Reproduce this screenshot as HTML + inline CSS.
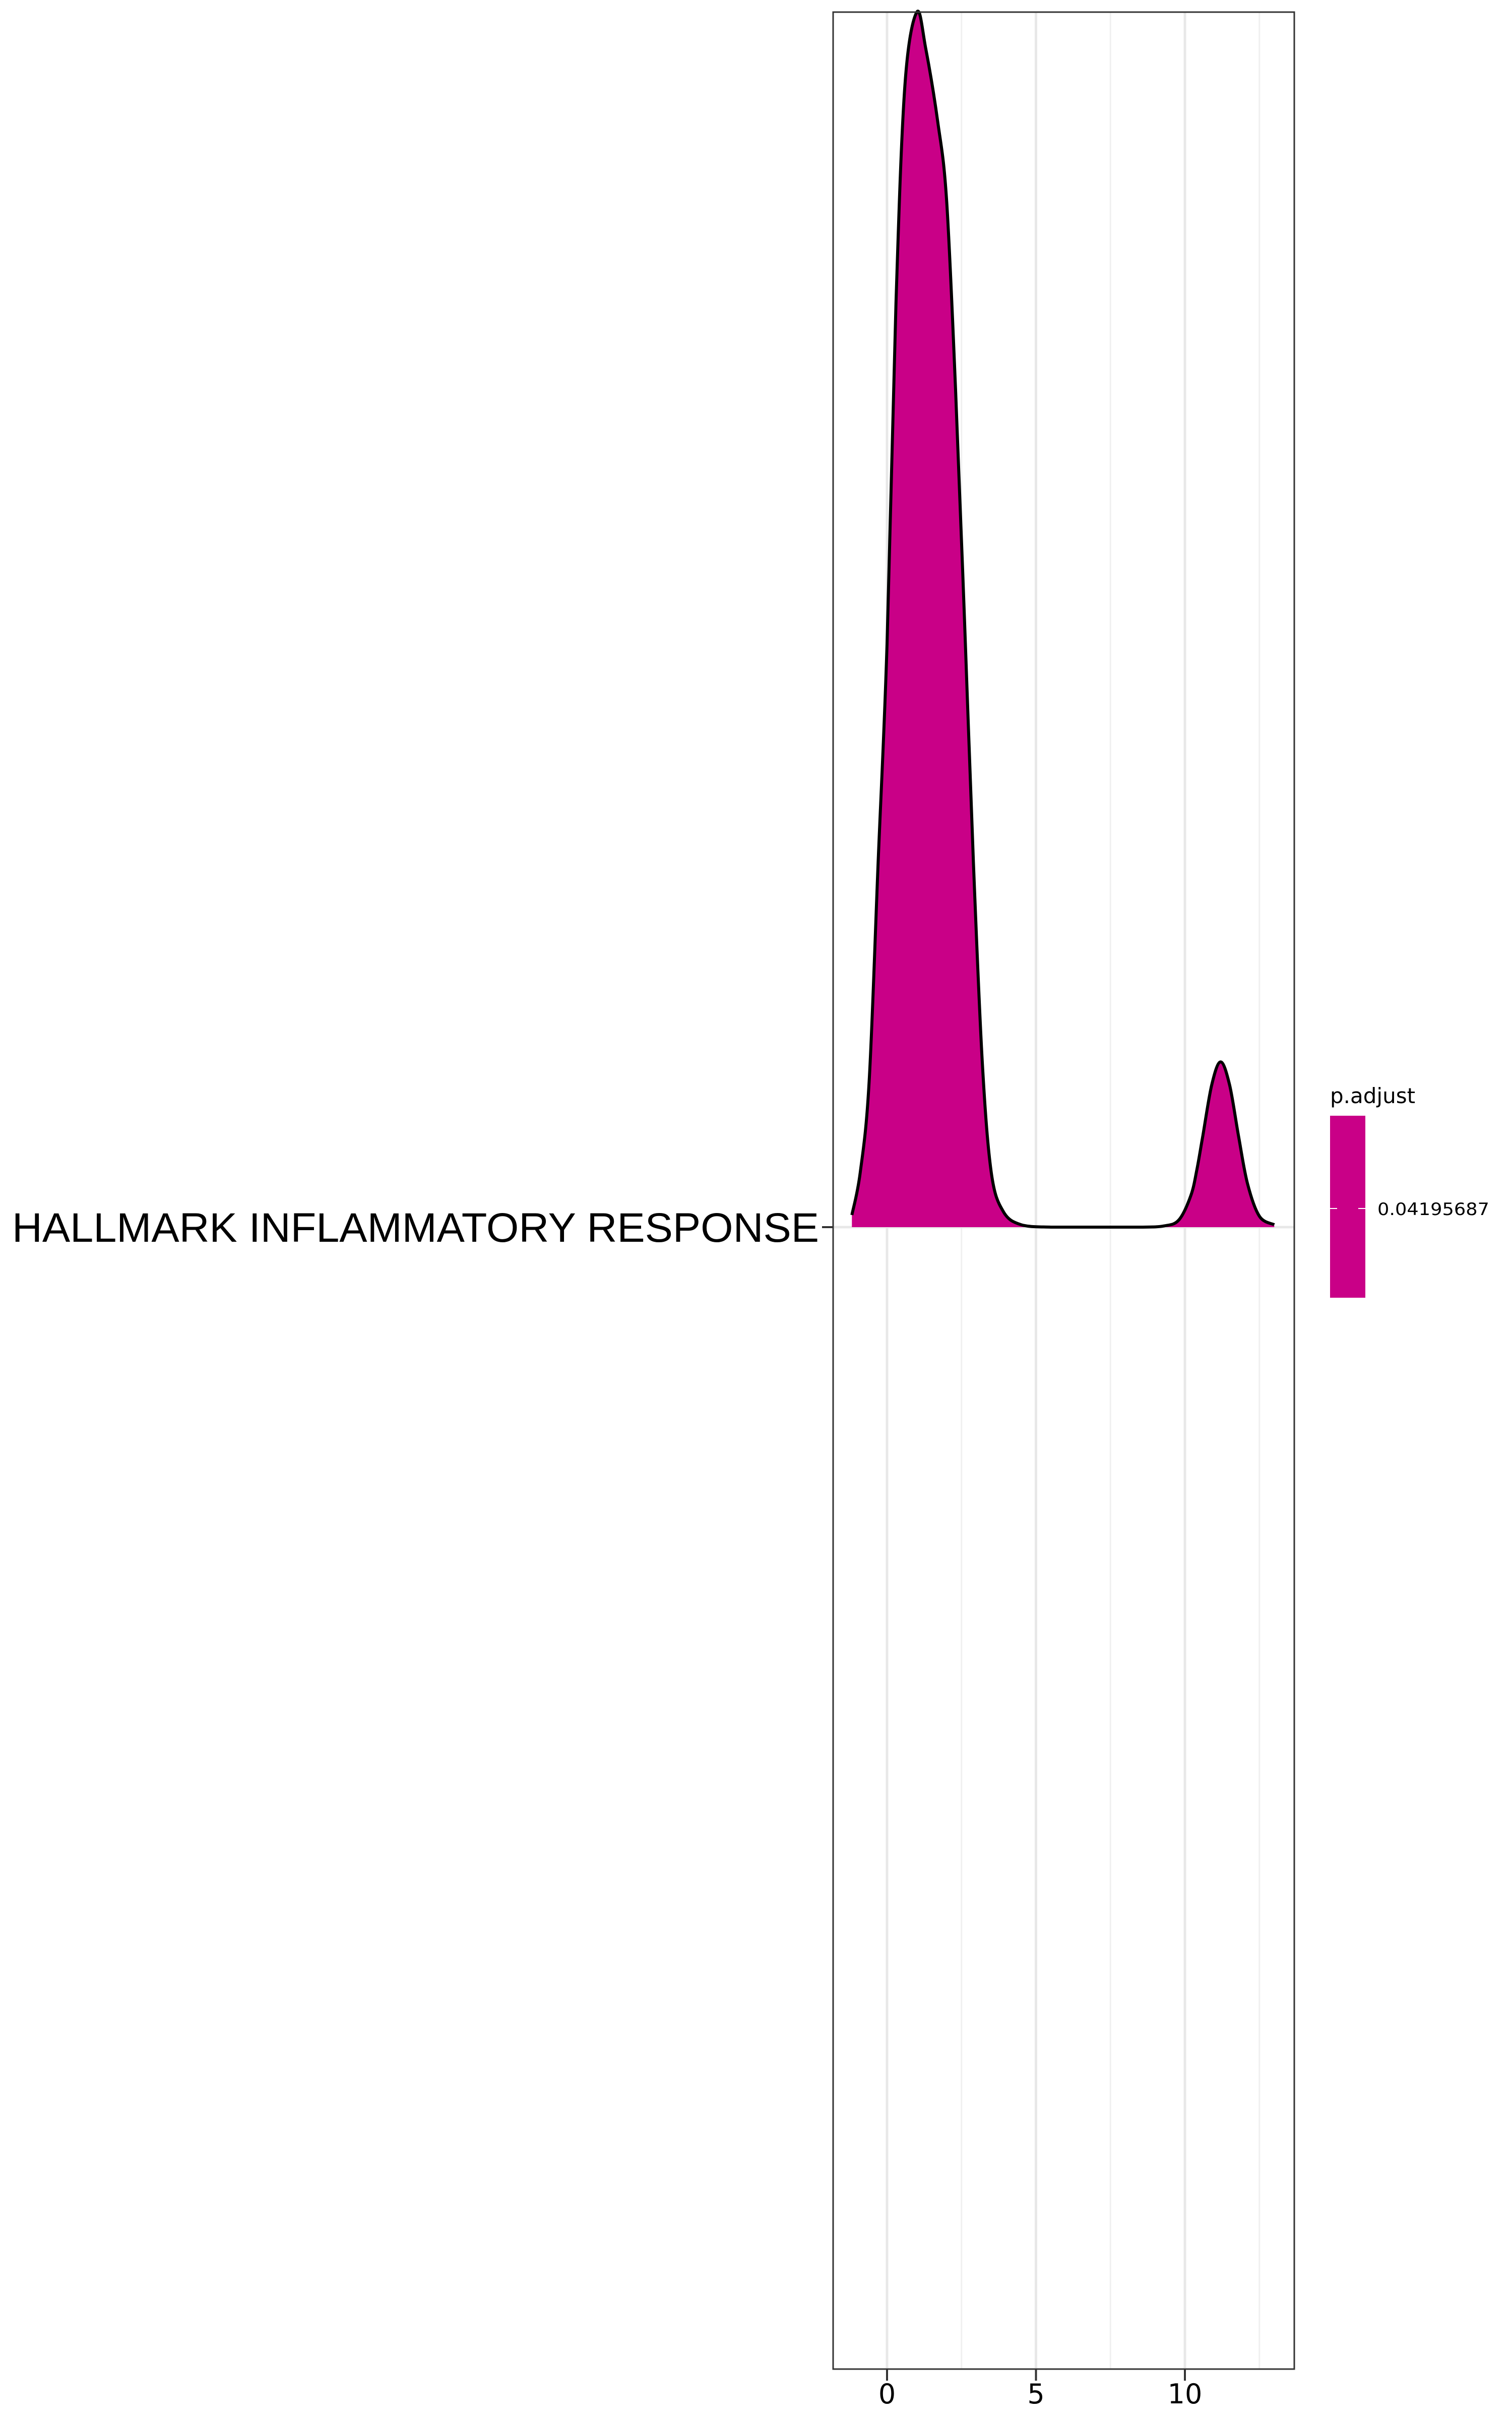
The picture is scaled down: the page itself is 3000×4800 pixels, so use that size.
<!DOCTYPE html>
<html><head><meta charset="utf-8"><style>html,body{margin:0;padding:0;background:#fff}svg{display:block}</style></head>
<body>
<svg width="3000" height="4800" viewBox="0 0 3000 4800" xmlns="http://www.w3.org/2000/svg">
<g id="grid"></g>
<g id="marks"></g>
<rect x="1653" y="24" width="915" height="4675" fill="none" stroke="#333" stroke-width="3"/>
<g id="axes"></g>
<text x="1625" y="2463" text-anchor="end" font-family="Liberation Sans, DejaVu Sans, sans-serif" font-size="82" fill="#000" textLength="1601" lengthAdjust="spacingAndGlyphs">HALLMARK INFLAMMATORY RESPONSE</text>
<g>
<text x="2639" y="2188" font-family="DejaVu Sans, Liberation Sans, sans-serif" font-size="42" fill="#000">p.adjust</text>
<rect x="2639" y="2213" width="70" height="361" fill="#C90087"/>
<line x1="2639" y1="2397" x2="2653" y2="2397" stroke="#fff" stroke-width="2"/>
<line x1="2695" y1="2397" x2="2709" y2="2397" stroke="#fff" stroke-width="2"/>
<text x="2733" y="2410" font-family="DejaVu Sans, Liberation Sans, sans-serif" font-size="34" fill="#000" textLength="222" lengthAdjust="spacingAndGlyphs">0.04195687</text>
</g>
</svg>
<script>
const xs = [-1.18,-0.9,-0.6,-0.3,0,0.3,0.6,1.0,1.3,1.7,2.0,2.3,2.6,2.9,3.2,3.5,3.9,4.5,5.5,7.0,8.5,9.3,9.8,10.2,10.4,10.6,10.9,11.2,11.5,11.8,12.1,12.5,13.0];
const dens = [0.01,0.045,0.12,0.30,0.48,0.76,0.94,1.0,0.97,0.91,0.845,0.69,0.50,0.30,0.135,0.045,0.013,0.002,0,0,0,0.001,0.006,0.026,0.047,0.075,0.117,0.136,0.117,0.075,0.036,0.009,0.002];
const majorTicks = [0,5,10];
const minorTicks = [2.5,7.5,12.5];
const tickLabels = ["0","5","10"];
const NS = "http://www.w3.org/2000/svg";
const X0 = 1760, UNIT = 59.1, BASE = 2434, PEAK = 2410;
const xs2p = v => X0 + v*UNIT;
const ys2p = d => BASE - d*PEAK;
const grid = document.getElementById('grid');
function ln(p, x1,y1,x2,y2,c,w){const l=document.createElementNS(NS,'line');l.setAttribute('x1',x1);l.setAttribute('y1',y1);l.setAttribute('x2',x2);l.setAttribute('y2',y2);l.setAttribute('stroke',c);l.setAttribute('stroke-width',w);p.appendChild(l);return l;}
minorTicks.forEach(t=>{const l=ln(grid,xs2p(t),24,xs2p(t),4699,'#F0F0F0',3);

});
majorTicks.forEach(t=>{const l=ln(grid,xs2p(t),24,xs2p(t),4699,'#E8E8E8',5);

});
const hl=ln(grid,1653,BASE,2568,BASE,'#E8E8E8',5);


const pts = xs.map((x,i)=>[xs2p(x), ys2p(dens[i])]);
function smooth(p){
  let s='';
  for(let i=0;i<p.length-1;i++){
    const p0=p[Math.max(0,i-1)],p1=p[i],p2=p[i+1],p3=p[Math.min(p.length-1,i+2)];
    const c1=[p1[0]+(p2[0]-p0[0])/6,p1[1]+(p2[1]-p0[1])/6];
    const c2=[p2[0]-(p3[0]-p1[0])/6,p2[1]-(p3[1]-p1[1])/6];
    s+=' C'+c1[0].toFixed(1)+','+Math.min(BASE,c1[1]).toFixed(1)+' '+c2[0].toFixed(1)+','+Math.min(BASE,c2[1]).toFixed(1)+' '+p2[0].toFixed(1)+','+p2[1].toFixed(1);
  }
  return s;
}
const curve = smooth(pts);
const marks=document.getElementById('marks');
const fill=document.createElementNS(NS,'path');
fill.setAttribute('d','M'+pts[0][0]+','+BASE+' L'+pts[0][0]+','+pts[0][1]+curve+' L'+pts[pts.length-1][0]+','+BASE+' Z');
fill.setAttribute('fill','#C90087');


marks.appendChild(fill);
const line=document.createElementNS(NS,'path');
line.setAttribute('d','M'+pts[0][0]+','+pts[0][1]+curve);
line.setAttribute('fill','none');line.setAttribute('stroke','#000');line.setAttribute('stroke-width','6');line.setAttribute('stroke-linejoin','round');


marks.appendChild(line);
const axes=document.getElementById('axes');
majorTicks.forEach((t,i)=>{ln(axes,xs2p(t),4699,xs2p(t),4722,'#333',4);
const tx=document.createElementNS(NS,'text');tx.setAttribute('x',xs2p(t));tx.setAttribute('y',4767);tx.setAttribute('text-anchor','middle');tx.setAttribute('font-family','DejaVu Sans, Liberation Sans, sans-serif');tx.setAttribute('font-size','54');tx.textContent=tickLabels[i];


axes.appendChild(tx);});
ln(axes,1631,BASE,1653,BASE,'#333',4);
</script>
</body></html>
